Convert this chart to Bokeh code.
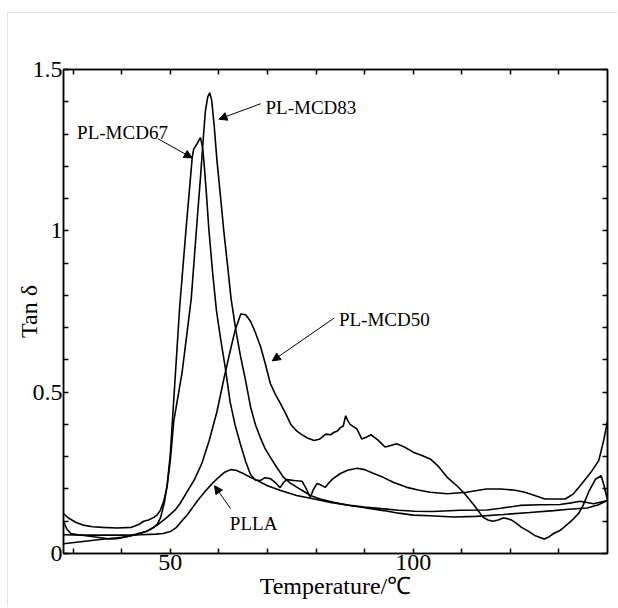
from bokeh.plotting import figure
from bokeh.models import (Range1d, FixedTicker, LinearAxis, CustomJSTickFormatter,
                          Arrow, NormalHead, Label)
from bokeh.embed import file_html
from bokeh.resources import INLINE

# ---------------- data ----------------
T_PLLA = [28, 32, 36, 40, 44, 47, 48.5, 50, 51.2, 52.2, 53.5, 54.6, 55.5, 57, 58.5,
          60, 61.2, 62.4, 63.5, 65, 66.5, 67.9, 70, 72.7, 76, 79.6, 83, 86.5, 90, 93.4,
          97, 100.3, 104, 109.7, 115.2, 118, 122, 126, 130.2, 132.5, 134.4, 137.1, 140]
Y_PLLA = [0.058, 0.057, 0.057, 0.057, 0.058, 0.06, 0.062, 0.068, 0.08, 0.098, 0.12, 0.143,
          0.162, 0.19, 0.215, 0.237, 0.252, 0.26, 0.258, 0.248, 0.236, 0.226, 0.21, 0.195,
          0.18, 0.169, 0.158, 0.15, 0.144, 0.139, 0.134, 0.131, 0.13, 0.134, 0.135, 0.14,
          0.149, 0.151, 0.152, 0.157, 0.162, 0.154, 0.164]

T_MCD50 = [28, 32, 36, 40, 43, 45.3, 47.3, 49.3, 51, 52, 53.4, 55, 56.5, 58, 59.6,
           61, 62.2, 63.3, 64.5, 65.5, 66.5, 67.5, 68.6, 69.6, 70.6, 71.6, 72.7, 73.8, 74.8, 76,
           76.9, 78.2, 79.6, 80.8, 82, 83, 83.6, 84.4, 85, 85.6, 86.1, 86.6, 87, 87.7, 88.4,
           89.4, 90.3, 91.3, 92.7, 94.2, 95.4, 96.6, 98.2, 100, 101.8, 103.5, 105.2, 107, 109, 110.6,
           112.5, 114.4, 115.4, 116.4, 117.5, 118.5, 119.4, 120.2, 121.2, 122.3, 123.6, 125, 126, 127, 128,
           128.9, 130.2, 131.3, 132.5, 134.1, 135, 136.1, 137.5, 138.7, 139.3, 140]
Y_MCD50 = [0.030, 0.037, 0.044, 0.050, 0.058, 0.07, 0.088, 0.112, 0.135, 0.155, 0.19, 0.23, 0.28, 0.35, 0.44,
           0.54, 0.62, 0.69, 0.742, 0.74, 0.72, 0.685, 0.64, 0.585, 0.526, 0.494, 0.464, 0.432, 0.40, 0.38,
           0.37, 0.358, 0.35, 0.355, 0.37, 0.368, 0.375, 0.38, 0.39, 0.395, 0.427, 0.41, 0.40, 0.393, 0.386,
           0.355, 0.36, 0.368, 0.352, 0.33, 0.335, 0.34, 0.33, 0.314, 0.304, 0.293, 0.27, 0.236, 0.21, 0.185,
           0.15, 0.112, 0.104, 0.1, 0.104, 0.11, 0.108, 0.104, 0.094, 0.081, 0.07, 0.056, 0.05, 0.045, 0.052,
           0.062, 0.071, 0.085, 0.1, 0.125, 0.15, 0.19, 0.23, 0.241, 0.21, 0.165]

T_MCD67 = [28, 28.7, 29.5, 31, 33, 35.7, 37.6, 39, 41, 43, 45.3, 46.5, 47.3, 48, 48.8,
           49.4, 50, 50.8, 51.9, 53.2, 54.5, 54.8, 55.5, 56.2, 56.6, 56.9, 57.4, 57.9, 58.7, 59.5,
           60.4, 61.3, 62.3, 63.3, 64.4, 65.5, 66.5, 67.5, 68.5, 69.5, 70.6, 71.6, 72.6, 73.3, 74,
           75.5, 77.1, 78, 78.8, 79.5, 80.2, 81, 81.9, 82.7, 83.5, 85, 86.5, 88.4, 90, 91.5,
           93.8, 96, 98.7, 101, 103.5, 107, 111, 115, 118, 121, 123, 125, 127.1, 129, 131.3,
           133, 134.7, 136.5, 138.2, 139.2, 140]
Y_MCD67 = [0.1, 0.075, 0.062, 0.058, 0.054, 0.049, 0.045, 0.046, 0.052, 0.06, 0.07, 0.08, 0.09, 0.112, 0.16,
           0.22, 0.31, 0.5, 0.76, 1.0, 1.227, 1.253, 1.27, 1.289, 1.26, 1.217, 1.12, 1.01, 0.87, 0.752,
           0.66, 0.577, 0.47, 0.4, 0.34, 0.285, 0.245, 0.228, 0.226, 0.235, 0.232, 0.22, 0.204, 0.22, 0.229,
           0.226, 0.224, 0.2, 0.174, 0.2, 0.217, 0.212, 0.205, 0.22, 0.232, 0.248, 0.258, 0.264, 0.26, 0.25,
           0.236, 0.22, 0.205, 0.197, 0.19, 0.185, 0.19, 0.2, 0.2, 0.196, 0.19, 0.18, 0.169, 0.169, 0.169,
           0.185, 0.216, 0.25, 0.288, 0.35, 0.41]

T_MCD83 = [28, 29, 30.5, 32, 34, 36, 39, 42, 43.5, 44.5, 45.5, 46.6, 47.3, 47.9, 48.6,
           49.3, 50, 50.7, 51.5, 52.4, 53.4, 54.3, 55, 55.6, 56.2, 56.7, 57.2, 57.7, 58.1, 58.5,
           59, 59.6, 60.3, 61, 61.8, 62.5, 63.5, 64.4, 65.5, 66.5, 67.5, 68.5, 69.5, 70.6, 72,
           73.3, 74.7, 76.1, 77.5, 78.8, 81, 83.6, 87, 90, 93.9, 97, 100, 103.5, 108.3, 113,
           118.6, 124, 128.9, 132, 135.8, 138, 140]
Y_MCD83 = [0.124, 0.11, 0.097, 0.088, 0.083, 0.081, 0.079, 0.081, 0.09, 0.1, 0.104, 0.112, 0.12, 0.133, 0.16,
           0.205, 0.29, 0.41, 0.48, 0.56, 0.68, 0.79, 0.93, 1.05, 1.165, 1.27, 1.37, 1.415, 1.428, 1.405,
           1.33, 1.217, 1.11, 1.0, 0.89, 0.79, 0.69, 0.615, 0.535, 0.455, 0.4, 0.36, 0.325, 0.298, 0.265,
           0.236, 0.218, 0.205, 0.192, 0.18, 0.168, 0.159, 0.149, 0.142, 0.133, 0.125, 0.119, 0.117, 0.113, 0.115,
           0.121, 0.127, 0.133, 0.137, 0.141, 0.15, 0.164]

X_TICKS = [50, 100]
X_MINOR = [30, 40, 60, 70, 80, 90, 110, 120, 130]
Y_TICKS = [0, 0.5, 1, 1.5]
Y_TICK_LABELS = ["0", "0.5", "1", "1.5"]
Y_MINOR = [0.1, 0.2, 0.3, 0.4, 0.6, 0.7, 0.8, 0.9, 1.1, 1.2, 1.3, 1.4]

SERIES = [("PLLA", T_PLLA, Y_PLLA), ("PL-MCD50", T_MCD50, Y_MCD50),
          ("PL-MCD67", T_MCD67, Y_MCD67), ("PL-MCD83", T_MCD83, Y_MCD83)]
for name, tx, ty in SERIES:
    assert len(tx) == len(ty), name

FONT = "'Liberation Serif', 'Times New Roman', serif"

p = figure(width=610, height=595, x_range=Range1d(28, 140), y_range=Range1d(0, 1.5),
           output_backend="svg", toolbar_location=None,
           min_border_left=55, min_border_right=11, min_border_top=56, min_border_bottom=55)
p.margin = (12, 0, 0, 7)
p.styles = {"border-top": "1px solid #e2e2e2", "border-left": "1px solid #e2e2e2"}
p.background_fill_color = "white"
p.border_fill_color = "white"
p.outline_line_color = "black"
p.outline_line_width = 1.5
p.xgrid.visible = False
p.ygrid.visible = False

for name, tx, ty in SERIES:
    p.line(tx, ty, line_color="black", line_width=1.6)


def style_axis(ax, show_labels):
    ax.axis_line_color = "black"
    ax.axis_line_width = 1.5
    ax.major_tick_line_width = 1.5
    ax.minor_tick_line_width = 1.5
    ax.major_tick_in = 5
    ax.major_tick_out = 0
    ax.minor_tick_in = 5
    ax.minor_tick_out = 0
    ax.major_label_text_font = FONT
    ax.major_label_text_color = "black"
    if show_labels:
        ax.major_label_text_font_size = "24px"
    else:
        ax.major_label_text_font_size = "0px"
        ax.formatter = CustomJSTickFormatter(code="return ''")


xax = p.xaxis[0]
yax = p.yaxis[0]
xax.ticker = FixedTicker(ticks=X_TICKS, minor_ticks=X_MINOR)
yax.ticker = FixedTicker(ticks=Y_TICKS, minor_ticks=Y_MINOR)
yax.major_label_overrides = dict(zip(Y_TICKS, Y_TICK_LABELS))
style_axis(xax, True)
style_axis(yax, True)
xax.major_label_standoff = 1
yax.major_label_standoff = 1

xax.axis_label = "Temperature/℃"
yax.axis_label = "Tan δ"
for ax in (xax, yax):
    ax.axis_label_text_font = FONT
    ax.axis_label_text_font_size = "24px"
    ax.axis_label_text_font_style = "normal"
    ax.axis_label_text_color = "black"
xax.axis_label_standoff = 0
yax.axis_label_standoff = -12

top = LinearAxis(ticker=FixedTicker(ticks=X_TICKS, minor_ticks=X_MINOR))
right = LinearAxis(ticker=FixedTicker(ticks=Y_TICKS, minor_ticks=Y_MINOR))
style_axis(top, False)
style_axis(right, False)
p.add_layout(top, "above")
p.add_layout(right, "right")

# annotations: label text (x, y baseline) and arrow (start -> end) in data units
ANNOTATIONS = [
    ("PL-MCD67", 30.8, 1.306, (47.5, 1.285), (54.5, 1.226)),
    ("PL-MCD83", 69.6, 1.381, (68.6, 1.394), (60.0, 1.346)),
    ("PL-MCD50", 84.7, 0.724, (83.75, 0.73), (71.0, 0.597)),
    ("PLLA", 62.25, 0.092, (62.4, 0.139), (59.1, 0.21)),
]
for text, lx, ly, (xs, ys), (xe, ye) in ANNOTATIONS:
    p.add_layout(Label(x=lx, y=ly, text=text, text_font=FONT, text_font_size="19px",
                       text_baseline="alphabetic", text_align="left", text_color="black"))
    p.add_layout(Arrow(end=NormalHead(size=8, fill_color="black", line_color="black", line_width=1),
                       x_start=xs, y_start=ys, x_end=xe, y_end=ye,
                       line_color="black", line_width=1))

open("out.html", "w").write(file_html(p, INLINE))
